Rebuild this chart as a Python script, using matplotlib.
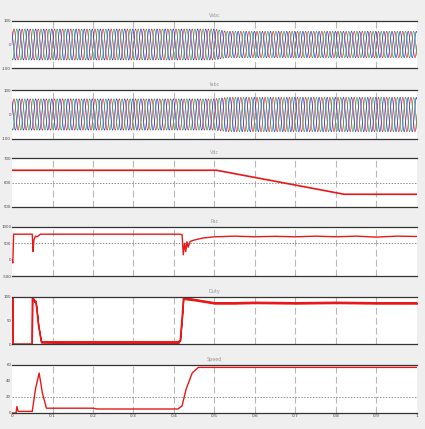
import numpy as np
import matplotlib
matplotlib.use("Agg")
import matplotlib.pyplot as plt

# ---------------- data ----------------
titles = ["Vabc", "Iabc", "Vdc", "Pac", "Duty", "Speed"]
x_ticks = [0, 0.1, 0.2, 0.3, 0.4, 0.5, 0.6, 0.7, 0.8, 0.9, 1.0]
x_tick_labels = ["0", "0.1", "0.2", "0.3", "0.4", "0.5", "0.6", "0.7", "0.8", "0.9", "1"]

# three-phase waveforms (panel 1 and 2): frequency and amplitude envelopes
wave_freq = 50.0
v_amp_t = [0.0, 0.50, 0.53, 1.0]
v_amp = [66, 66, 56, 56]
i_amp_t = [0.0, 0.50, 0.53, 1.0]
i_amp = [64, 64, 70, 70]
phase_colors = ["#e02020", "#20a040", "#2030e0"]

# panel 3: Vdc
vdc_t = [0.0, 0.505, 0.82, 1.0]
vdc_v = [650, 650, 552, 552]

# panel 4: power
p_t = [0.0, 0.002, 0.004, 0.05, 0.052, 0.054, 0.058, 0.062, 0.07, 0.415, 0.42, 0.423,
       0.426, 0.429, 0.432, 0.435, 0.44, 0.45, 0.47, 0.5, 0.55, 0.6, 0.65, 0.7, 0.75,
       0.8, 0.85, 0.9, 0.95, 1.0]
p_v = [0, -100, 780, 780, 250, 600, 720, 700, 780, 780, 760, 150,
       500, 250, 550, 380, 560, 600, 660, 700, 720, 700, 715, 700, 720,
       700, 720, 690, 720, 710]

# panel 5: duty (upper envelope / lower envelope)
d_t = [0.0, 0.001, 0.002, 0.049, 0.05, 0.051, 0.055, 0.058, 0.06, 0.065, 0.072, 0.2,
       0.41, 0.415, 0.42, 0.423, 0.43, 0.45, 0.5, 0.55, 0.6, 0.7, 0.8, 0.9, 1.0]
d_hi = [100, 100, 0, 0, 100, 100, 90, 92, 80, 40, 5, 5,
        5, 8, 60, 98, 98, 95, 88, 88, 89, 88, 89, 88, 88]
d_lo = [100, 100, 0, 0, 100, 100, 90, 92, 80, 40, 3, 1,
        1, 8, 60, 96, 95, 93, 86, 86, 87, 86, 87, 86, 86]

# panel 6: speed
s_t = [0.0, 0.01, 0.012, 0.015, 0.05, 0.058, 0.067, 0.075, 0.085, 0.2, 0.21, 0.41,
       0.42, 0.43, 0.445, 0.46, 0.5, 1.0]
s_v = [0, 0, 8, 2, 2, 30, 50, 25, 6, 6, 5, 5,
       9, 30, 50, 57, 57, 57]

# ---------------- figure ----------------
W, H = 425, 429
fig = plt.figure(figsize=(W / 100, H / 100), dpi=100, facecolor="#efefef")

panel_px = [(21, 68), (90, 139), (158, 207), (227, 276), (297, 344), (365, 413)]
x_left, x_right = 12, 417
ylims = [(-100, 100), (-100, 100), (500, 700), (-500, 1000), (0, 100), (0, 60)]
yticks = [[-100, 0, 100], [-100, 0, 100], [500, 600, 700], [-500, 0, 500, 1000],
          [0, 50, 100], [0, 20, 40, 60]]
dotted_y = [None, None, 600, 500, None, 20]

axes = []
for i, (top, bot) in enumerate(panel_px):
    ax = fig.add_axes([x_left / W, 1 - bot / H, (x_right - x_left) / W, (bot - top) / H])
    ax.set_facecolor("white")
    ax.set_xlim(0, 1)
    ax.set_ylim(*ylims[i])
    ax.set_yticks(yticks[i])
    ax.set_yticklabels([str(v) for v in yticks[i]], fontsize=2.8, color="#444")
    ax.set_xticks(x_ticks)
    if i == 5:
        ax.set_xticklabels(x_tick_labels, fontsize=3.2, color="#444")
    else:
        ax.set_xticklabels([])
    ax.tick_params(length=0, pad=0.6)
    for xt in x_ticks[1:-1]:
        ax.axvline(xt, color="#b8b8b8", lw=0.8, ls=(0, (6, 3)), zorder=0)
    if dotted_y[i] is not None:
        ax.axhline(dotted_y[i], color="#909090", lw=0.7, ls=(0, (1.5, 1.5)), zorder=0)
    for s in ["left", "right"]:
        ax.spines[s].set_visible(False)
    for s in ["top", "bottom"]:
        ax.spines[s].set_color("#333333")
        ax.spines[s].set_linewidth(0.9)
    ax.set_title(titles[i], fontsize=3.5, color="#999999", pad=3)
    axes.append(ax)

# panels 1-2: three-phase waves
t = np.linspace(0, 1, 6000)
for ax, at, av in [(axes[0], v_amp_t, v_amp), (axes[1], i_amp_t, i_amp)]:
    env = np.interp(t, at, av)
    for k, c in enumerate(phase_colors):
        ax.plot(t, env * np.sin(2 * np.pi * wave_freq * t - k * 2 * np.pi / 3),
                color=c, lw=0.45)

red = "#e81818"
axes[2].plot(vdc_t, vdc_v, color=red, lw=1.2)
axes[3].plot(p_t, p_v, color=red, lw=1.0)
axes[4].fill_between(d_t, d_lo, d_hi, color=red, lw=0.9, edgecolor=red)
axes[4].plot(d_t, d_hi, color=red, lw=0.9)
axes[5].plot(s_t, s_v, color=red, lw=1.0)

fig.savefig("out.png", dpi=100, facecolor=fig.get_facecolor())
